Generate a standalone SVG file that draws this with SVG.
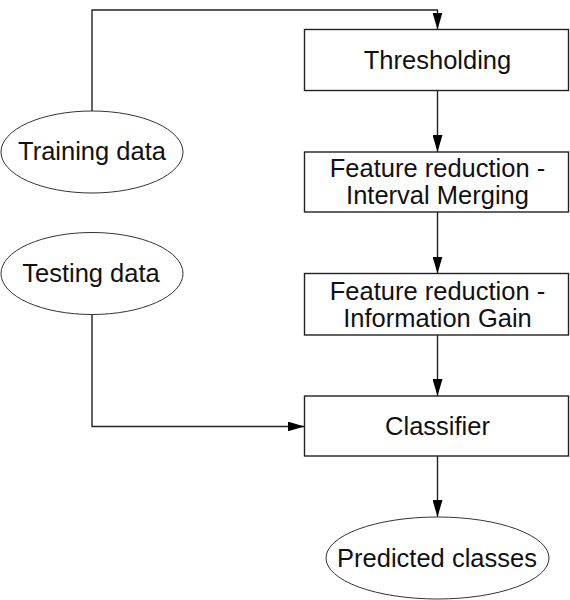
<svg xmlns="http://www.w3.org/2000/svg" width="570" height="600" viewBox="0 0 570 600">
  <style>
    .box { fill: #ffffff; stroke: #222222; stroke-width: 1.4; }
    .oval { fill: #ffffff; stroke: #333333; stroke-width: 1; }
    .lbl { font-family: "Liberation Sans", Arial, sans-serif; font-size: 25.5px; fill: #111111; text-anchor: middle; }
    .conn { fill: none; stroke: #222222; stroke-width: 1.4; }
  </style>
  <defs>
    <marker id="arrow" viewBox="0 0 17 10" refX="17" refY="5" markerWidth="17" markerHeight="10" markerUnits="userSpaceOnUse" orient="auto">
      <path d="M0,0 L17,5 L0,10 Z" fill="#000000"/>
    </marker>
  </defs>
  <rect width="570" height="600" fill="#ffffff"/>

  <g id="connectors">
    <path class="conn" d="M92,111 V10 H437.5 V29.5" marker-end="url(#arrow)"/>
    <path class="conn" d="M437.5,90.5 V152" marker-end="url(#arrow)"/>
    <path class="conn" d="M437.5,212 V273.5" marker-end="url(#arrow)"/>
    <path class="conn" d="M437.5,335 V396" marker-end="url(#arrow)"/>
    <path class="conn" d="M92,314.5 V426.5 H304.5" marker-end="url(#arrow)"/>
    <path class="conn" d="M437.5,456 V517" marker-end="url(#arrow)"/>
  </g>

  <g id="training-data">
    <ellipse class="oval" cx="92" cy="152" rx="91" ry="41"/>
    <text class="lbl" x="92" y="160">Training data</text>
  </g>

  <g id="testing-data">
    <ellipse class="oval" cx="92" cy="273.5" rx="91" ry="41"/>
    <text class="lbl" x="91" y="282">Testing data</text>
  </g>

  <g id="thresholding">
    <rect class="box" x="304.5" y="29.5" width="264" height="61"/>
    <text class="lbl" x="437.5" y="68.5">Thresholding</text>
  </g>

  <g id="interval-merging">
    <rect class="box" x="304.5" y="152" width="264" height="60"/>
    <text class="lbl" x="437.5" y="177">Feature reduction -</text>
    <text class="lbl" x="437.5" y="204">Interval Merging</text>
  </g>

  <g id="information-gain">
    <rect class="box" x="304.5" y="273.5" width="264" height="61.5"/>
    <text class="lbl" x="437.5" y="299.5">Feature reduction -</text>
    <text class="lbl" x="437.5" y="327">Information Gain</text>
  </g>

  <g id="classifier">
    <rect class="box" x="304.5" y="396" width="264" height="60"/>
    <text class="lbl" x="437.5" y="434.5">Classifier</text>
  </g>

  <g id="predicted-classes">
    <ellipse class="oval" cx="437.5" cy="558" rx="111.5" ry="41"/>
    <text class="lbl" x="437" y="566.5">Predicted classes</text>
  </g>
</svg>
